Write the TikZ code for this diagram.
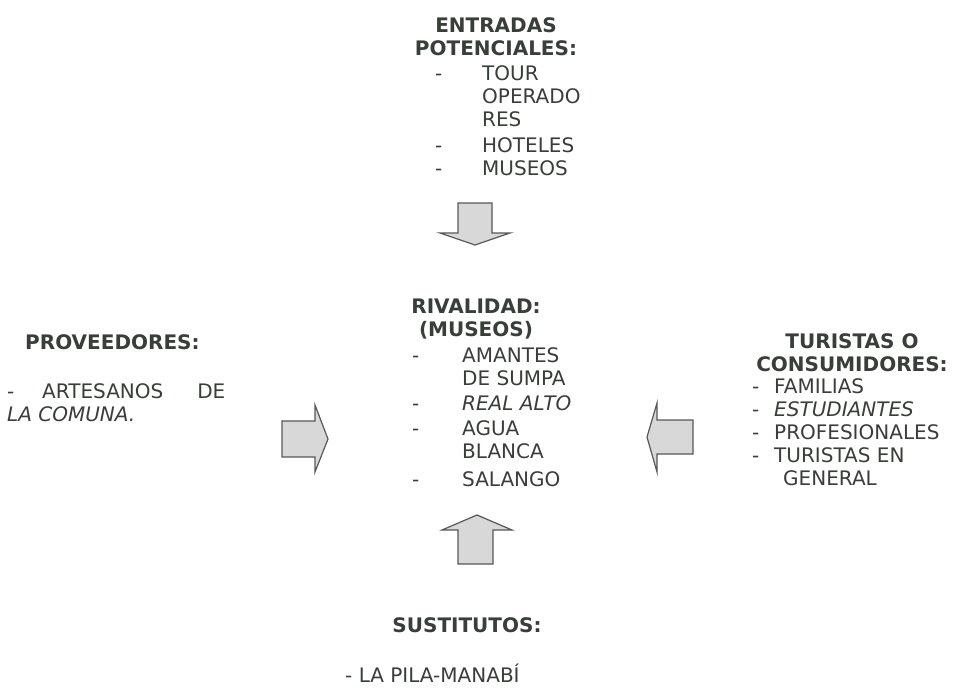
\documentclass[tikz,border=0pt]{standalone}
\usepackage{fontspec}
\setmainfont{DejaVu Sans}
\usetikzlibrary{positioning}
\definecolor{tinta}{RGB}{56,62,56}
\definecolor{relleno}{RGB}{216,216,216}
\definecolor{borde}{RGB}{88,88,88}

\begin{document}
\begin{tikzpicture}[x=1pt, y=-1pt,
every node/.style={inner sep=0pt, text=tinta, font=\fontsize{20}{23}\selectfont},
titulo/.style={anchor=base, font=\fontsize{20}{23}\selectfont\bfseries},
lista/.style={anchor=base west},
flecha/.style={draw=borde, fill=relleno, line width=1.2pt, line join=miter}
]
\path[fill=white, use as bounding box] (0,0) rectangle (953,688);

\node[titulo] (entradas) at (496,32)
    {\begin{tabular}[t]{@{}c@{}}ENTRADAS\\POTENCIALES:\end{tabular}};
\node[lista] (entradas-lista) at (435,80)
    {\begin{tabular}[t]{@{}p{47pt}@{}l@{}}
      - & TOUR\\ & OPERADO\\ & RES\\[3pt]
      - & HOTELES\\
      - & MUSEOS
    \end{tabular}};

\node[titulo] (rivalidad) at (476,313)
    {\begin{tabular}[t]{@{}c@{}}RIVALIDAD:\\(MUSEOS)\end{tabular}};
\node[lista] (rivalidad-lista) at (412,362)
    {\begin{tabular}[t]{@{}p{50pt}@{}l@{}}
      - & AMANTES\\ & DE SUMPA\\[2pt]
      - & \itshape REAL ALTO\\[2pt]
      - & AGUA\\ & BLANCA\\[5pt]
      - & SALANGO
    \end{tabular}};

\node[titulo, anchor=base west] (proveedores) at (25,349) {PROVEEDORES:};
\node[lista] (proveedores-lista) at (7,398)
    {\begin{tabular}[t]{@{}l@{}}
      -\hspace{27.8pt}ARTESANOS\hspace{34pt}DE\\
      \itshape LA COMUNA.
    \end{tabular}};

\node[titulo] (turistas) at (852,348)
    {\begin{tabular}[t]{@{}c@{}}TURISTAS O\\CONSUMIDORES:\end{tabular}};
\node[lista] (turistas-lista) at (752,393)
    {\begin{tabular}[t]{@{}p{22pt}@{}l@{}}
      - & FAMILIAS\\
      - & \itshape ESTUDIANTES\\
      - & PROFESIONALES\\
      - & TURISTAS EN\\ & \hspace{9pt}GENERAL
    \end{tabular}};

\node[titulo] (sustitutos) at (467,632) {SUSTITUTOS:};
\node[lista] (sustitutos-lista) at (345,682) {- LA PILA-MANABÍ};

\draw[flecha] (458,203) -- (492,203) -- (492,233) -- (510,233) -- (475,245)
    -- (440,233) -- (458,233) -- cycle;
\draw[flecha] (282,421) -- (315,421) -- (315,405) -- (328,439) -- (315,472)
    -- (315,457) -- (282,457) -- cycle;
\draw[flecha] (693,420) -- (657,420) -- (657,403) -- (647,437) -- (657,472)
    -- (657,454) -- (693,454) -- cycle;
\draw[flecha] (458,564) -- (458,530) -- (442,530) -- (477,515) -- (512,530)
    -- (493,530) -- (493,564) -- cycle;
\end{tikzpicture}
\end{document}
